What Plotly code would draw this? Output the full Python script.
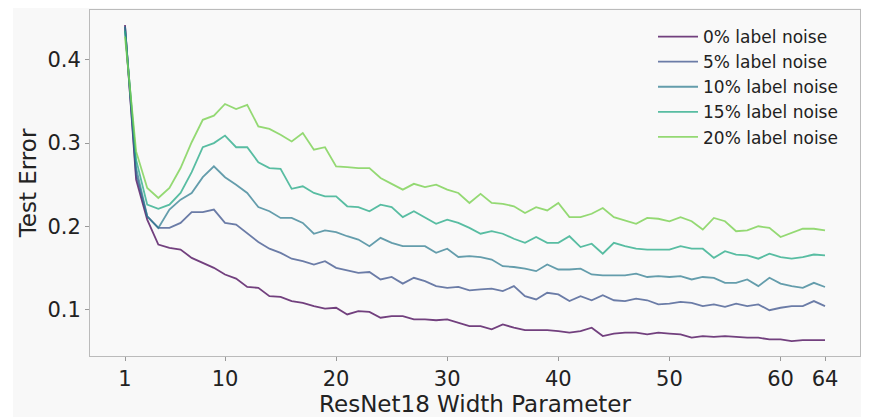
import plotly.graph_objects as go

widths = list(range(1, 65))

noise_0 = [0.442, 0.256, 0.208, 0.178, 0.174, 0.172, 0.162, 0.156, 0.150, 0.142,
           0.137, 0.127, 0.126, 0.116, 0.115, 0.110, 0.108, 0.104, 0.101, 0.102,
           0.094, 0.098, 0.097, 0.090, 0.092, 0.092, 0.088, 0.088, 0.087, 0.088,
           0.084, 0.080, 0.080, 0.076, 0.082, 0.078, 0.075, 0.075, 0.075, 0.074,
           0.072, 0.074, 0.078, 0.068, 0.071, 0.072, 0.072, 0.070, 0.072, 0.071,
           0.070, 0.066, 0.068, 0.067, 0.068, 0.067, 0.066, 0.066, 0.064, 0.064,
           0.062, 0.063, 0.063, 0.063]
noise_5 = [0.440, 0.262, 0.212, 0.198, 0.198, 0.204, 0.217, 0.217, 0.220, 0.204,
           0.202, 0.192, 0.181, 0.173, 0.168, 0.161, 0.158, 0.154, 0.158, 0.150,
           0.147, 0.144, 0.145, 0.136, 0.139, 0.131, 0.138, 0.134, 0.128, 0.126,
           0.127, 0.123, 0.124, 0.125, 0.122, 0.128, 0.116, 0.112, 0.120, 0.118,
           0.110, 0.116, 0.111, 0.117, 0.111, 0.110, 0.113, 0.111, 0.106, 0.107,
           0.109, 0.108, 0.104, 0.106, 0.103, 0.107, 0.104, 0.106, 0.099, 0.102,
           0.104, 0.104, 0.110, 0.104]
noise_10 = [0.440, 0.270, 0.212, 0.198, 0.220, 0.232, 0.240, 0.259, 0.272, 0.259,
            0.250, 0.240, 0.223, 0.218, 0.210, 0.210, 0.204, 0.191, 0.195, 0.193,
            0.188, 0.184, 0.176, 0.186, 0.180, 0.176, 0.176, 0.176, 0.168, 0.173,
            0.163, 0.164, 0.163, 0.160, 0.152, 0.151, 0.149, 0.146, 0.154, 0.148,
            0.148, 0.149, 0.142, 0.141, 0.141, 0.141, 0.143, 0.139, 0.140, 0.139,
            0.140, 0.136, 0.139, 0.138, 0.132, 0.132, 0.136, 0.128, 0.138, 0.131,
            0.128, 0.126, 0.132, 0.127]
noise_15 = [0.435, 0.280, 0.226, 0.221, 0.226, 0.240, 0.265, 0.295, 0.300, 0.309,
            0.295, 0.295, 0.277, 0.270, 0.269, 0.245, 0.248, 0.240, 0.236, 0.236,
            0.224, 0.223, 0.218, 0.226, 0.223, 0.211, 0.218, 0.211, 0.203, 0.208,
            0.204, 0.198, 0.191, 0.194, 0.191, 0.185, 0.180, 0.187, 0.180, 0.180,
            0.188, 0.175, 0.179, 0.167, 0.180, 0.176, 0.173, 0.172, 0.172, 0.172,
            0.176, 0.173, 0.173, 0.162, 0.170, 0.166, 0.165, 0.161, 0.167, 0.163,
            0.161, 0.163, 0.166, 0.165]
noise_20 = [0.428, 0.290, 0.246, 0.234, 0.246, 0.270, 0.301, 0.328, 0.333, 0.347,
            0.341, 0.346, 0.320, 0.317, 0.310, 0.302, 0.312, 0.292, 0.295, 0.272,
            0.271, 0.270, 0.270, 0.258, 0.251, 0.244, 0.251, 0.247, 0.250, 0.244,
            0.240, 0.228, 0.239, 0.228, 0.227, 0.224, 0.216, 0.223, 0.219, 0.228,
            0.211, 0.211, 0.215, 0.222, 0.211, 0.207, 0.203, 0.210, 0.209, 0.206,
            0.211, 0.206, 0.196, 0.210, 0.206, 0.194, 0.195, 0.200, 0.198, 0.187,
            0.192, 0.197, 0.197, 0.195]

series_names = ["0% label noise", "5% label noise", "10% label noise",
                "15% label noise", "20% label noise"]
series_values = [noise_0, noise_5, noise_10, noise_15, noise_20]
colors = ["rgba(68,1,84,0.75)", "rgba(59,82,139,0.75)", "rgba(42,120,142,0.72)",
          "rgba(34,168,132,0.75)", "rgba(122,209,81,0.8)"]

x_ticks = [1, 10, 20, 30, 40, 50, 60, 64]
y_ticks = [0.1, 0.2, 0.3, 0.4]

fig = go.Figure()
for name, vals, col in zip(series_names, series_values, colors):
    fig.add_trace(go.Scatter(x=widths, y=vals, mode="lines", name=name,
                             line=dict(color=col, width=1.8)))

font = "DejaVu Sans"
# page body has an 8px margin; the figure is sized to fill the window after that offset
W, H = 861, 409
L, R, T, B = 82, 9, 2, 61
PW = W - L - R
PH = H - T - B
fig.update_layout(
    width=W, height=H,
    margin=dict(l=L, r=R, t=T, b=B, autoexpand=False),
    paper_bgcolor="#f8f8f8",
    plot_bgcolor="#f9f9f9",
    font=dict(family=font, color="#222222"),
    showlegend=True,
    legend=dict(x=(645 - L) / PW, y=1 - (11 - T) / PH, xanchor="left", yanchor="top",
                bgcolor="rgba(0,0,0,0)", font=dict(size=17, family=font, color="#222222"),
                tracegroupgap=0, itemwidth=40),
    shapes=[dict(type="rect", xref="paper", yref="paper", layer="below",
                 x0=-L / PW, x1=(5 - L) / PW, y0=-B / PH, y1=1 + T / PH,
                 fillcolor="#ffffff", line=dict(width=0))],
)
fig.update_xaxes(range=[-2.15, 67.15], tickvals=x_ticks, ticktext=[str(t) for t in x_ticks],
                 showgrid=False, zeroline=False, showline=True, linecolor="#bbbbbb",
                 mirror=True, ticks="outside", ticklen=4, tickcolor="#999999",
                 automargin=False,
                 tickfont=dict(size=21, family=font),
                 title=dict(text="ResNet18 Width Parameter", font=dict(size=23, family=font), standoff=5))
fig.update_yaxes(range=[0.044, 0.46], tickvals=y_ticks, ticktext=[str(t) for t in y_ticks],
                 showgrid=False, zeroline=False, showline=True, linecolor="#bbbbbb",
                 mirror=True, ticks="outside", ticklen=4, tickcolor="#999999",
                 automargin=False,
                 tickfont=dict(size=21, family=font),
                 title=dict(text="Test Error", font=dict(size=23, family=font), standoff=4))

fig.write_html("out.html")
